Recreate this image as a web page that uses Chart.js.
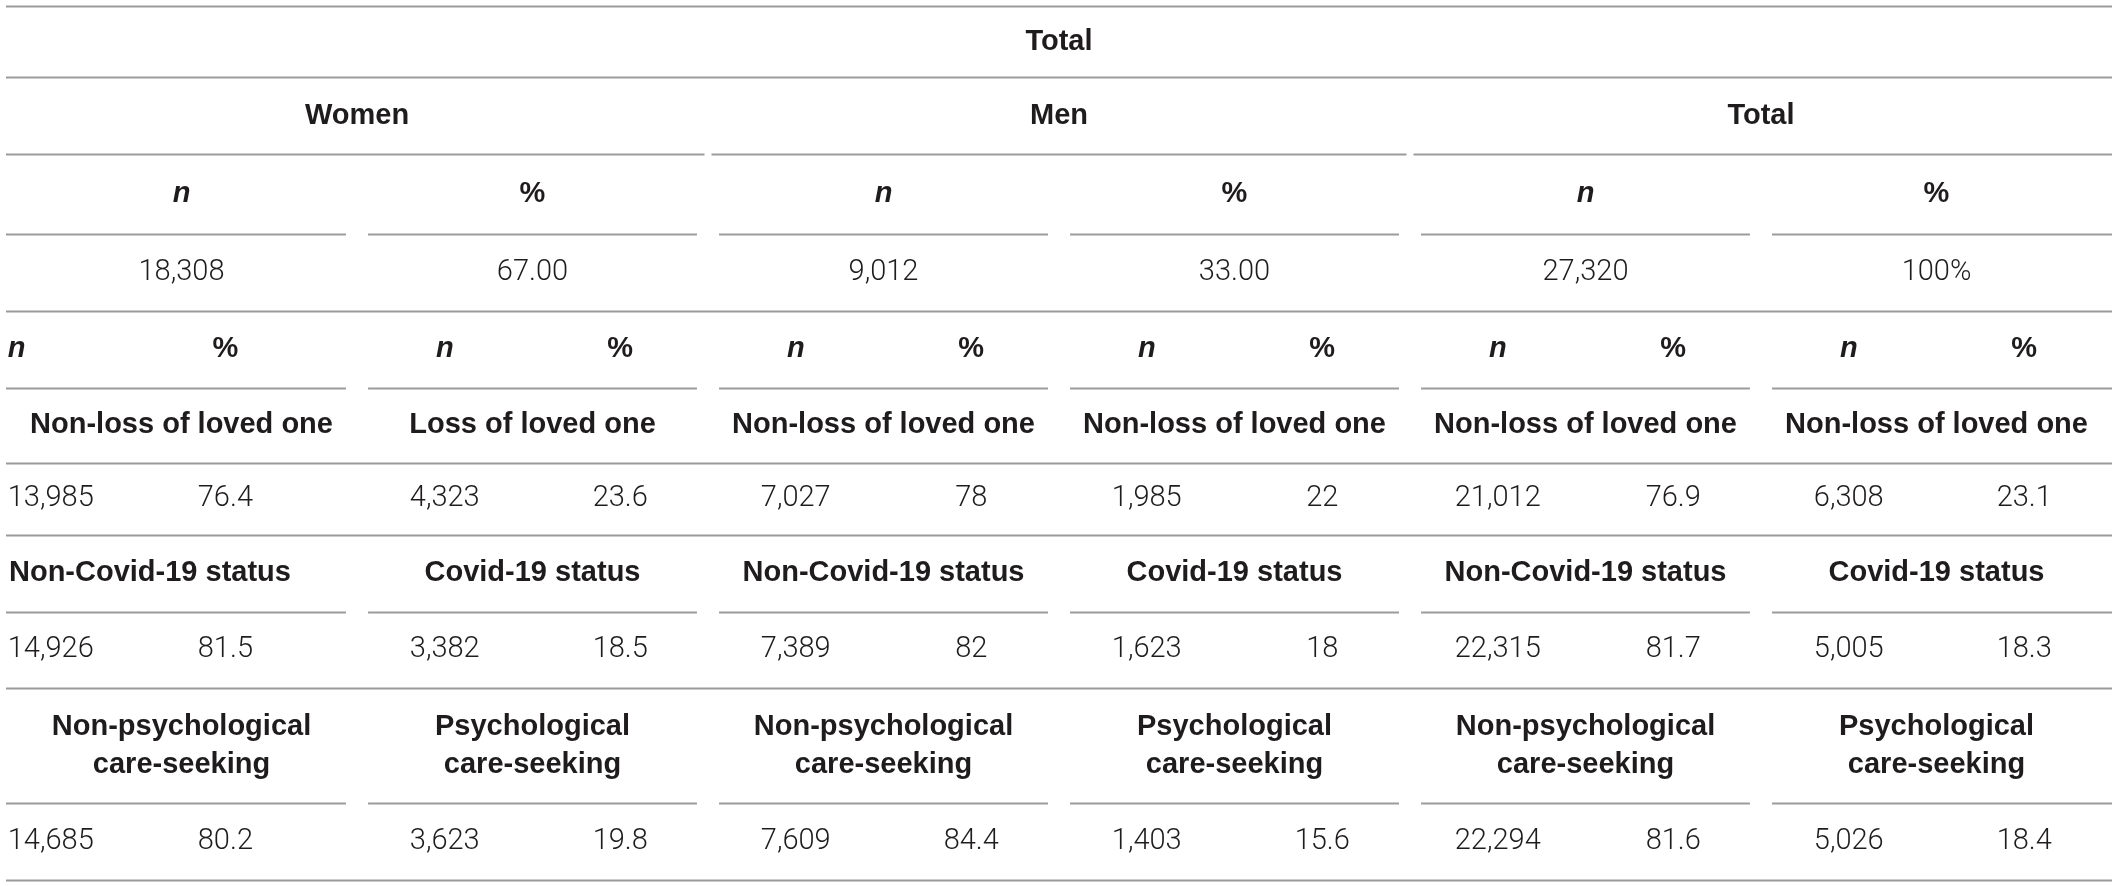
<!DOCTYPE html>
<html>
<head>
<meta charset="utf-8">
<script src="https://cdn.jsdelivr.net/npm/chart.js@4"></script>
<style>
  html, body { margin: 0; padding: 0; background: #fff; }
  canvas { display: block; }
</style>
</head>
<body>
<canvas id="table" width="2118" height="886"></canvas>
<script>
// table contents
const topTitle = 'Total';
const groupLabels = ['Women', 'Men', 'Total'];
const statLabels = ['n', '%'];
const groupN = [18308, 9012, 27320];
const groupPct = ['67.00', '33.00', '100%'];

const lossLabels = ['Non-loss of loved one', 'Loss of loved one', 'Non-loss of loved one', 'Non-loss of loved one', 'Non-loss of loved one', 'Non-loss of loved one'];
const lossN = [13985, 4323, 7027, 1985, 21012, 6308];
const lossPct = [76.4, 23.6, 78, 22, 76.9, 23.1];

const covidLabels = ['Non-Covid-19 status', 'Covid-19 status', 'Non-Covid-19 status', 'Covid-19 status', 'Non-Covid-19 status', 'Covid-19 status'];
const covidN = [14926, 3382, 7389, 1623, 22315, 5005];
const covidPct = [81.5, 18.5, 82, 18, 81.7, 18.3];

const careLabels = [['Non-psychological', 'care-seeking'], ['Psychological', 'care-seeking'], ['Non-psychological', 'care-seeking'], ['Psychological', 'care-seeking'], ['Non-psychological', 'care-seeking'], ['Psychological', 'care-seeking']];
const careN = [14685, 3623, 7609, 1403, 22294, 5026];
const carePct = [80.2, 19.8, 84.4, 15.6, 81.6, 18.4];

// layout: row rules in y units, column units 0..12
const rowLines = [0, 0.93, 1.93, 2.98, 3.98, 4.98, 5.96, 6.9, 7.9, 8.9, 10.4, 11.4];
const ruleKind = ['full', 'full', 'group', 'sub', 'full', 'sub', 'full', 'full', 'sub', 'full', 'sub', 'full'];

const BOLD = 'bold 29px "Liberation Sans", Arial, sans-serif';
const ITAL = 'italic bold 29px "Liberation Sans", Arial, sans-serif';
const LIGHT = '300 29px Roboto, "Liberation Sans", sans-serif';
const INK = '#1f1c1d';
const RULE = '#9b9b9b';

const fmt = v => typeof v === 'number' && v >= 1000 ? v.toLocaleString('en-US') : String(v);

const tablePlugin = {
  id: 'tableCells',
  afterDraw(chart) {
    const { ctx, scales: { x, y } } = chart;
    const px = v => x.getPixelForValue(v);
    const mid = r => y.getPixelForValue((rowLines[r] + rowLines[r + 1]) / 2);
    const unitY = y.getPixelForValue(1) - y.getPixelForValue(0);

    ctx.save();
    // rules
    ctx.strokeStyle = RULE;
    ctx.lineWidth = 2;
    const seg = (a, b, yy) => {
      ctx.beginPath();
      ctx.moveTo(px(a), yy);
      ctx.lineTo(px(b), yy);
      ctx.stroke();
    };
    rowLines.forEach((v, i) => {
      const yy = Math.round(y.getPixelForValue(v)) + 0.5;
      if (ruleKind[i] === 'full') {
        seg(0, 12, yy);
      } else if (ruleKind[i] === 'group') {
        for (let g = 0; g < 3; g++) seg(4 * g + (g ? 0.02 : 0), 4 * g + 4 - (g < 2 ? 0.02 : 0), yy);
      } else {
        for (let s = 0; s < 6; s++) seg(2 * s + (s ? 0.063 : 0), 2 * s + 2 - (s < 5 ? 0.063 : 0), yy);
      }
    });

    // text
    ctx.fillStyle = INK;
    ctx.textBaseline = 'middle';
    const text = (str, xv, yy, font, align) => {
      ctx.font = font;
      ctx.textAlign = align || 'center';
      ctx.fillText(str, px(xv), yy);
    };

    text(topTitle, 6, mid(0), BOLD);
    groupLabels.forEach((g, i) => text(g, 4 * i + 2, mid(1), BOLD));
    for (let s = 0; s < 6; s++) {
      text(statLabels[s % 2], 2 * s + 1, mid(2), s % 2 ? BOLD : ITAL);
    }
    groupN.forEach((v, i) => {
      text(fmt(v), 4 * i + 1, mid(3), LIGHT);
      text(groupPct[i], 4 * i + 3, mid(3), LIGHT);
    });

    // n / % pair cells; first women column sits left in the source
    const pair = (row, nStr, pStr, s, fontN, fontP) => {
      if (s === 0) {
        text(nStr, 0.01, mid(row), fontN, 'left');
        text(pStr, 1.25, mid(row), fontP);
      } else {
        text(nStr, 2 * s + 0.5, mid(row), fontN);
        text(pStr, 2 * s + 1.5, mid(row), fontP);
      }
    };
    for (let s = 0; s < 6; s++) pair(4, statLabels[0], statLabels[1], s, ITAL, BOLD);

    lossLabels.forEach((l, s) => text(l, 2 * s + 1, mid(5), BOLD));
    lossN.forEach((v, s) => pair(6, fmt(v), fmt(lossPct[s]), s, LIGHT, LIGHT));

    covidLabels.forEach((l, s) => {
      if (s === 0) text(l, 0.017, mid(7), BOLD, 'left');
      else text(l, 2 * s + 1, mid(7), BOLD);
    });
    covidN.forEach((v, s) => pair(8, fmt(v), fmt(covidPct[s]), s, LIGHT, LIGHT));

    careLabels.forEach((lines, s) => {
      lines.forEach((l, j) => text(l, 2 * s + 1, mid(9) + (j - 0.5) * 0.5 * unitY, BOLD));
    });
    careN.forEach((v, s) => pair(10, fmt(v), fmt(carePct[s]), s, LIGHT, LIGHT));
    ctx.restore();
  }
};

const chart = new Chart(document.getElementById('table'), {
  type: 'scatter',
  data: { datasets: [{ data: [], pointRadius: 0 }] },
  options: {
    responsive: false,
    animation: false,
    devicePixelRatio: 1,
    layout: { padding: { left: 6, right: 6, top: 6, bottom: 6 } },
    scales: {
      x: { type: 'linear', min: 0, max: 12, display: false },
      y: { type: 'linear', min: 0, max: 11.4, reverse: true, display: false }
    },
    plugins: { legend: { display: false }, tooltip: { enabled: false } }
  },
  plugins: [tablePlugin]
});
</script>
</body>
</html>
